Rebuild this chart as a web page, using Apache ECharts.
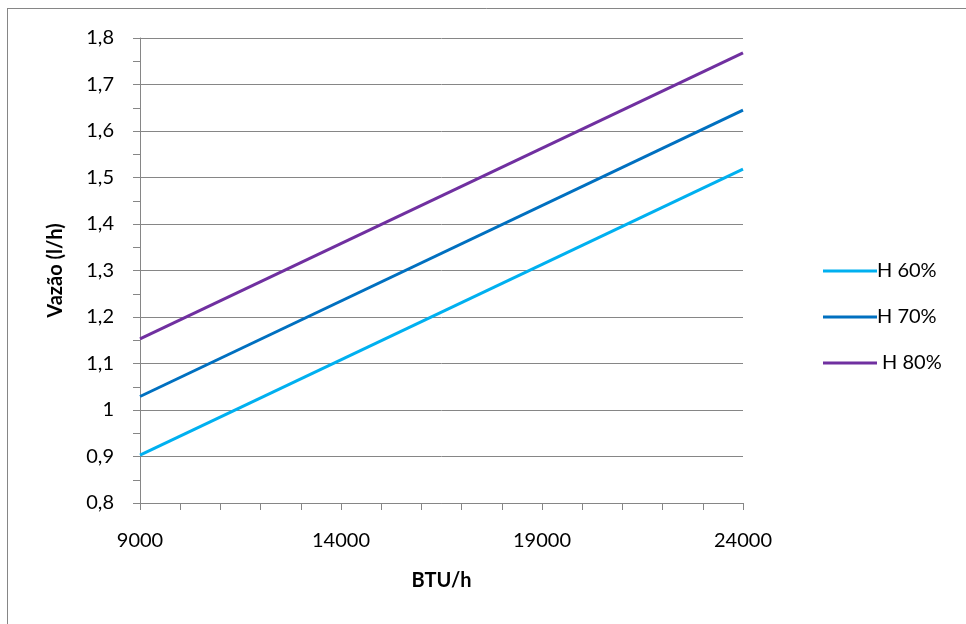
<!DOCTYPE html>
<html>
<head>
<meta charset="utf-8">
<script src="https://cdn.jsdelivr.net/npm/echarts@6/dist/echarts.min.js"></script>
<style>
html,body{margin:0;padding:0;background:#fff;}
#chart{width:966px;height:624px;}
</style>
</head>
<body>
<div id="chart"></div>
<script>
const btu = [9000, 24000];
const h60 = [0.903, 1.518];
const h70 = [1.029, 1.645];
const h80 = [1.153, 1.768];
const seriesNames = ['H 60%', 'H 70%', ' H 80%'];
const seriesColors = ['#00B0F0', '#0070C0', '#7030A0'];
const xLabelTicks = [9000, 14000, 19000, 24000];

const font = 'Lato, "Open Sans", "Liberation Sans", sans-serif';
const chart = echarts.init(document.getElementById('chart'));
const seriesData = [h60, h70, h80];
chart.setOption({
  animation: false,
  textStyle: {fontFamily: font},
  grid: {left: 140, right: 223, top: 38, bottom: 121, containLabel: false},
  graphic: [
    {type: 'line', shape: {x1: 7.5, y1: 8, x2: 7.5, y2: 624}, style: {stroke: '#868686', lineWidth: 1}},
    {type: 'line', shape: {x1: 7.5, y1: 8.5, x2: 966, y2: 8.5}, style: {stroke: '#868686', lineWidth: 1}}
  ],
  legend: {
    orient: 'vertical',
    left: 818, top: 256,
    icon: 'rect',
    itemWidth: 54, itemHeight: 3, itemGap: 26,
    textStyle: {fontSize: 20, color: '#000', fontFamily: font, padding: [0,0,0,-5]},
    data: seriesNames
  },
  xAxis: {
    type: 'value', min: 9000, max: 24000, interval: 1000,
    name: 'BTU/h', nameLocation: 'middle', nameGap: 68,
    nameTextStyle: {fontSize: 20, fontWeight: 'bold', color: '#000', fontFamily: font},
    axisLine: {lineStyle: {color: '#868686'}},
    axisTick: {show: true, length: 7, lineStyle: {color: '#868686'}},
    axisLabel: {
      fontSize: 20, color: '#000', margin: 28,
      formatter: v => xLabelTicks.indexOf(v) >= 0 ? String(v) : ''
    },
    splitLine: {show: false}
  },
  yAxis: {
    type: 'value', min: 0.8, max: 1.8, interval: 0.1,
    name: 'Vazão (l/h)', nameLocation: 'middle', nameGap: 74, nameRotate: 90,
    nameTextStyle: {fontSize: 20, fontWeight: 'bold', color: '#000', fontFamily: font},
    axisLine: {show: true, lineStyle: {color: '#868686'}},
    axisTick: {show: true, length: 7, lineStyle: {color: '#868686'}},
    minorTick: {show: true, splitNumber: 2, length: 7, lineStyle: {color: '#868686'}},
    axisLabel: {
      fontSize: 20, color: '#000', margin: 26,
      formatter: v => String(+v.toFixed(1)).replace('.', ',')
    },
    splitLine: {show: true, lineStyle: {color: '#868686', width: 1}}
  },
  series: seriesNames.map((n, i) => ({
    name: n, type: 'line', symbol: 'none', showSymbol: false,
    data: btu.map((x, j) => [x, seriesData[i][j]]),
    lineStyle: {color: seriesColors[i], width: 3},
    itemStyle: {color: seriesColors[i]}
  }))
});
</script>
</body>
</html>
